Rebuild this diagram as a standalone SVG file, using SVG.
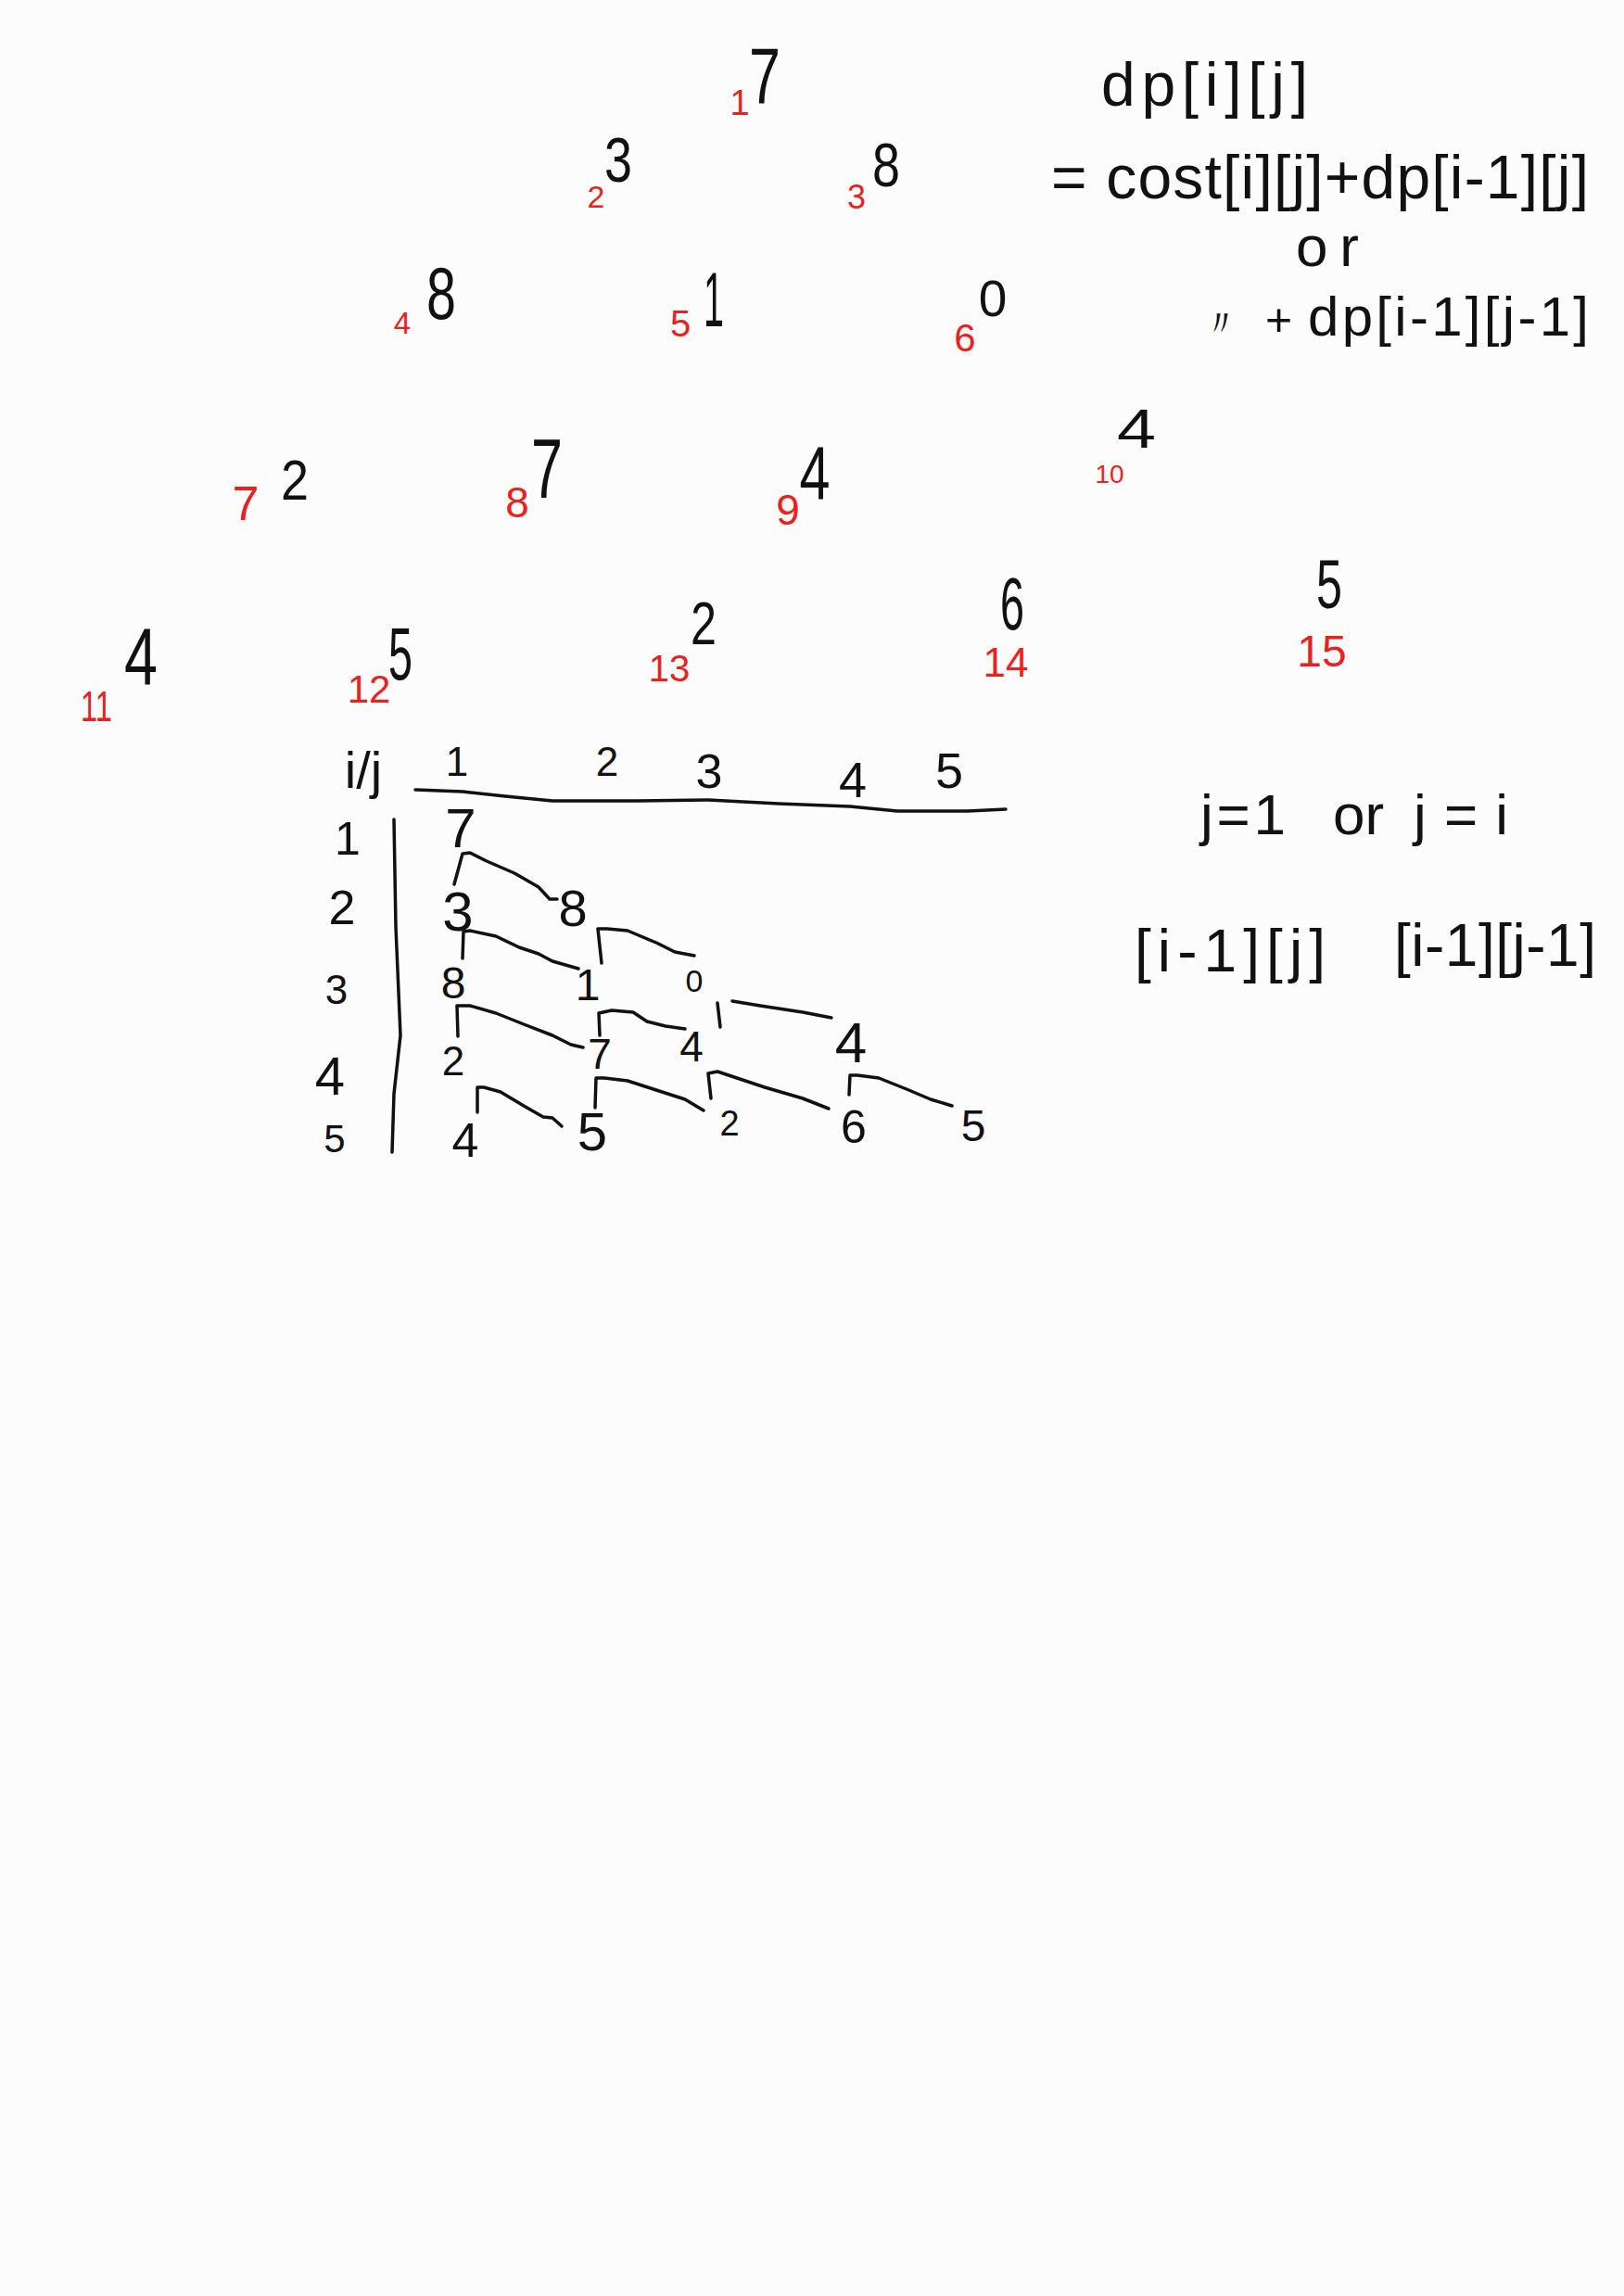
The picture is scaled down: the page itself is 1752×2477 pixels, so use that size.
<svg xmlns="http://www.w3.org/2000/svg" width="1752" height="2477" viewBox="0 0 1752 2477">
<style>
text{font-family:"Liberation Sans","DejaVu Sans",sans-serif;text-anchor:middle}
.b{fill:#111}
.r{fill:#e8231f}
.f{fill:#111;text-anchor:start}
.ln{fill:none;stroke:#111;stroke-width:3.5;stroke-linecap:round;stroke-linejoin:round}
</style>
<rect width="1752" height="2477" fill="#fcfcfc"/>
<g id="triangle">
<g id="n1"><text class="b" x="825" y="111" font-size="85" textLength="34" lengthAdjust="spacingAndGlyphs">7</text><text class="r" x="798" y="124" font-size="38">1</text></g>
<g id="n2"><text class="b" x="667" y="196" font-size="68" textLength="30" lengthAdjust="spacingAndGlyphs">3</text><text class="r" x="643" y="224" font-size="34">2</text></g>
<g id="n3"><text class="b" x="956" y="201" font-size="66" textLength="30" lengthAdjust="spacingAndGlyphs">8</text><text class="r" x="924" y="225" font-size="36">3</text></g>
<g id="n4"><text class="b" x="476" y="344" font-size="80" textLength="32" lengthAdjust="spacingAndGlyphs">8</text><text class="r" x="434" y="360" font-size="33">4</text></g>
<g id="n5"><text class="b" x="770" y="352" font-size="84" textLength="22" lengthAdjust="spacingAndGlyphs">1</text><text class="r" x="734" y="363" font-size="40">5</text></g>
<g id="n6"><text class="b" x="1071" y="341" font-size="55">0</text><text class="r" x="1041" y="379" font-size="42">6</text></g>
<g id="n7"><text class="b" x="318" y="539" font-size="62" textLength="30" lengthAdjust="spacingAndGlyphs">2</text><text class="r" x="265" y="561" font-size="52">7</text></g>
<g id="n8"><text class="b" x="590" y="537" font-size="90" textLength="34" lengthAdjust="spacingAndGlyphs">7</text><text class="r" x="558" y="558" font-size="46">8</text></g>
<g id="n9"><text class="b" x="879" y="539" font-size="82" textLength="33" lengthAdjust="spacingAndGlyphs">4</text><text class="r" x="850" y="566" font-size="46">9</text></g>
<g id="n10"><text class="b" x="1226" y="483" font-size="60" textLength="42" lengthAdjust="spacingAndGlyphs">4</text><text class="r" x="1197" y="521" font-size="28">10</text></g>
<g id="n11"><text class="b" x="152" y="739" font-size="88" textLength="36" lengthAdjust="spacingAndGlyphs">4</text><text class="r" x="104" y="778" font-size="46" textLength="34" lengthAdjust="spacingAndGlyphs">11</text></g>
<g id="n12"><text class="b" x="432" y="733" font-size="80" textLength="26" lengthAdjust="spacingAndGlyphs">5</text><text class="r" x="398" y="758" font-size="42">12</text></g>
<g id="n13"><text class="b" x="759" y="695" font-size="65" textLength="28" lengthAdjust="spacingAndGlyphs">2</text><text class="r" x="722" y="735" font-size="40">13</text></g>
<g id="n14"><text class="b" x="1092" y="679" font-size="80" textLength="26" lengthAdjust="spacingAndGlyphs">6</text><text class="r" x="1085" y="730" font-size="44">14</text></g>
<g id="n15"><text class="b" x="1434" y="656" font-size="75" textLength="28" lengthAdjust="spacingAndGlyphs">5</text><text class="r" x="1426" y="719" font-size="48">15</text></g>
</g>
<g id="formula">
<text class="f" x="1188" y="114" font-size="66" textLength="223" lengthAdjust="spacing">dp[i][j]</text>
<text class="f" x="1134" y="214" font-size="66" textLength="580" lengthAdjust="spacing">= cost[i][j]+dp[i-1][j]</text>
<text class="f" x="1398" y="287" font-size="62" textLength="68" lengthAdjust="spacing">or</text>
<text class="f" x="1297" y="362" font-size="40" font-family="Noto Sans CJK JP, sans-serif">〃</text>
<text class="f" x="1365" y="362" font-size="50">+</text>
<text class="f" x="1411" y="362" font-size="60" textLength="303" lengthAdjust="spacing">dp[i-1][j-1]</text>
</g>
<g id="notes">
<text class="f" x="1295" y="900" font-size="62" textLength="92" lengthAdjust="spacing">j=1</text>
<text class="f" x="1438" y="900" font-size="62">or</text>
<text class="f" x="1525" y="900" font-size="62" textLength="102" lengthAdjust="spacing">j=i</text>
<text class="f" x="1224" y="1048" font-size="64" textLength="206" lengthAdjust="spacing">[i-1][j]</text>
<text class="f" x="1504" y="1042" font-size="64" textLength="218" lengthAdjust="spacing">[i-1][j-1]</text>
</g>
<g id="table">
<g id="headers">
<text class="b" x="392" y="850" font-size="56">i/j</text>
<text class="b" x="493" y="837" font-size="44">1</text>
<text class="b" x="655" y="837" font-size="44">2</text>
<text class="b" x="765" y="850" font-size="52">3</text>
<text class="b" x="920" y="860" font-size="54">4</text>
<text class="b" x="1024" y="850" font-size="54">5</text>
<text class="b" x="375" y="922" font-size="50">1</text>
<text class="b" x="369" y="997" font-size="52">2</text>
<text class="b" x="363" y="1083" font-size="44">3</text>
<text class="b" x="356" y="1181" font-size="58">4</text>
<text class="b" x="361" y="1243" font-size="42">5</text>
</g>
<g id="cells">
<text class="b" x="497" y="914" font-size="60">7</text>
<text class="b" x="494" y="1004" font-size="60">3</text>
<text class="b" x="618" y="999" font-size="56">8</text>
<text class="b" x="489" y="1077" font-size="48">8</text>
<text class="b" x="634" y="1079" font-size="48">1</text>
<text class="b" x="749" y="1070" font-size="34">0</text>
<text class="b" x="489" y="1160" font-size="44">2</text>
<text class="b" x="647" y="1153" font-size="46">7</text>
<text class="b" x="746" y="1145" font-size="46">4</text>
<text class="b" x="918" y="1146" font-size="62">4</text>
<text class="b" x="502" y="1248" font-size="52">4</text>
<text class="b" x="639" y="1241" font-size="58">5</text>
<text class="b" x="787" y="1225" font-size="38">2</text>
<text class="b" x="921" y="1233" font-size="50">6</text>
<text class="b" x="1050" y="1231" font-size="48">5</text>
</g>
</g>
<g id="connectors">
<polyline class="ln" points="448,852 499,854 545,859 596,864 688,864 764,863 840,867 917,870 968,875 1044,875 1085,873"/>
<polyline class="ln" points="425,884 427,1000 432,1117 425,1180 423,1243"/>
<polyline class="ln" points="490,954 499,921 507,920 525,929 555,942 581,957 593,970 601,970"/>
<polyline class="ln" points="499,1034 500,1005 507,1004 535,1010 560,1022 581,1029 596,1037 624,1045"/>
<polyline class="ln" points="649,1039 645,1002 655,1002 677,1004 708,1017 728,1027 749,1031"/>
<polyline class="ln" points="494,1118 493,1085 507,1085 535,1093 565,1105 596,1117 616,1127 629,1130"/>
<polyline class="ln" points="647,1117 646,1093 660,1090 683,1092 698,1102 718,1107 739,1110"/>
<polyline class="ln" points="777,1108 774,1082"/>
<polyline class="ln" points="790,1080 820,1085 866,1092 897,1098"/>
<polyline class="ln" points="515,1200 515,1173 522,1173 540,1178 565,1193 586,1205 596,1206 606,1215"/>
<polyline class="ln" points="642,1195 643,1163 652,1163 677,1166 708,1176 739,1186 759,1198"/>
<polyline class="ln" points="767,1185 764,1158 774,1156 795,1163 825,1173 866,1185 894,1196"/>
<polyline class="ln" points="916,1181 917,1160 925,1160 948,1163 978,1175 1004,1186 1027,1193"/>
</g>
</svg>
